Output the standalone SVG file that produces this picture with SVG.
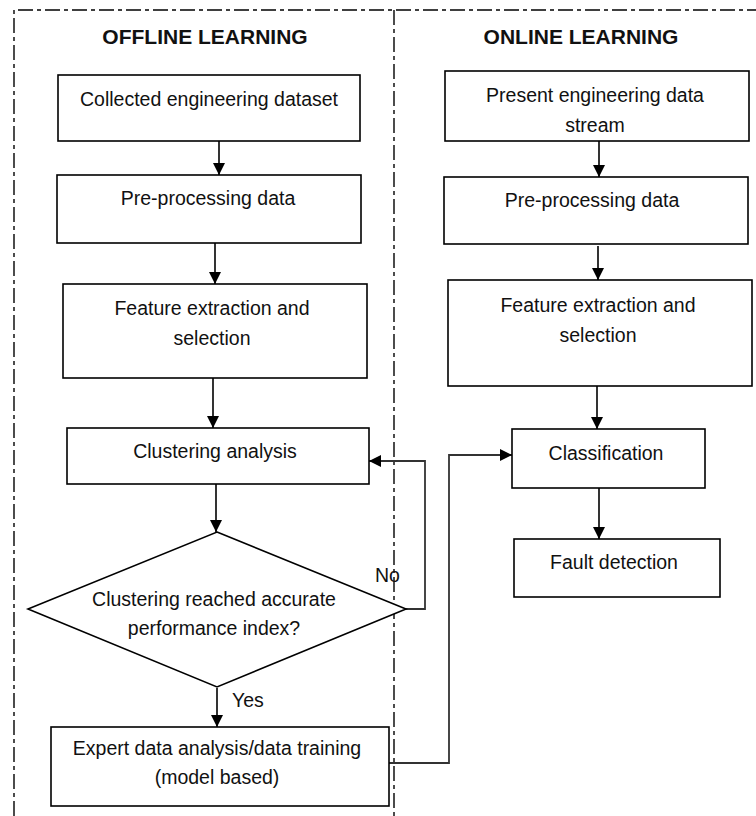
<svg xmlns="http://www.w3.org/2000/svg" width="756" height="816" viewBox="0 0 756 816">
<defs>
<marker id="ah" markerUnits="userSpaceOnUse" markerWidth="14" markerHeight="14" refX="12" refY="6" orient="auto">
<path d="M0,0 L12,6 L0,12 Z" fill="#000"/>
</marker>
<style>
.box{fill:#fff;stroke:#000;stroke-width:1.6}
.t{font-family:"Liberation Sans",Arial,sans-serif;font-size:19.5px;fill:#111;text-anchor:middle}
.h{font-family:"Liberation Sans",Arial,sans-serif;font-size:21px;font-weight:bold;fill:#111;text-anchor:middle}
.lbl{font-family:"Liberation Sans",Arial,sans-serif;font-size:19.5px;fill:#111}
.frame{fill:none;stroke:#000;stroke-width:1.4;stroke-dasharray:15 4 4 4}
.c{fill:none;stroke:#000;stroke-width:1.6}
.c2{fill:none;stroke:#333;stroke-width:1.8}
</style>
</defs>
<g id="frame">
<path class="frame" d="M14,816 V10 H756"/>
<path class="frame" d="M394,10 V816"/>
</g>
<text class="h" x="205" y="44">OFFLINE LEARNING</text>
<text class="h" x="581" y="44">ONLINE LEARNING</text>
<g id="connectors">
<path class="c" d="M219,141 V175" marker-end="url(#ah)"/>
<path class="c" d="M215,243 V284" marker-end="url(#ah)"/>
<path class="c" d="M213,378 V428" marker-end="url(#ah)"/>
<path class="c" d="M216,484 V532" marker-end="url(#ah)"/>
<path class="c2" d="M406,609 H425 V461 H369" marker-end="url(#ah)"/>
<path class="c" d="M217,688 V727" marker-end="url(#ah)"/>
<path class="c2" d="M388,763 H449 V455 H512" marker-end="url(#ah)"/>
<path class="c" d="M599,141 V177" marker-end="url(#ah)"/>
<path class="c" d="M598,246 V280" marker-end="url(#ah)"/>
<path class="c" d="M597,386 V429" marker-end="url(#ah)"/>
<path class="c" d="M599,488 V539" marker-end="url(#ah)"/>
</g>
<g id="n1"><rect class="box" x="58" y="75" width="302" height="66"/><text class="t" x="209" y="106">Collected engineering dataset</text></g>
<g id="n2"><rect class="box" x="57" y="175" width="304" height="68"/><text class="t" x="208" y="205">Pre-processing data</text></g>
<g id="n3"><rect class="box" x="63" y="284" width="304" height="94"/><text class="t" x="212" y="315">Feature extraction and</text><text class="t" x="212" y="345">selection</text></g>
<g id="n4"><rect class="box" x="67" y="428" width="302" height="56"/><text class="t" x="215" y="458">Clustering analysis</text></g>
<g id="n5"><polygon class="box" points="217,532 406,609 217,687 28,609"/><text class="t" x="214" y="606">Clustering reached accurate</text><text class="t" x="214" y="635">performance index?</text></g>
<g id="n6"><rect class="box" x="51" y="727" width="338" height="79"/><text class="t" x="217" y="755">Expert data analysis/data training</text><text class="t" x="217" y="784">(model based)</text></g>
<g id="r1"><rect class="box" x="445" y="71" width="304" height="70"/><text class="t" x="595" y="102">Present engineering data</text><text class="t" x="595" y="132">stream</text></g>
<g id="r2"><rect class="box" x="444" y="177" width="304" height="67"/><text class="t" x="592" y="207">Pre-processing data</text></g>
<g id="r3"><rect class="box" x="448" y="280" width="304" height="106"/><text class="t" x="598" y="312">Feature extraction and</text><text class="t" x="598" y="342">selection</text></g>
<g id="r4"><rect class="box" x="512" y="429" width="193" height="59"/><text class="t" x="606" y="460">Classification</text></g>
<g id="r5"><rect class="box" x="514" y="539" width="206" height="58"/><text class="t" x="614" y="569">Fault detection</text></g>
<text class="lbl" x="375" y="582">No</text>
<text class="lbl" x="232" y="707">Yes</text>
</svg>
